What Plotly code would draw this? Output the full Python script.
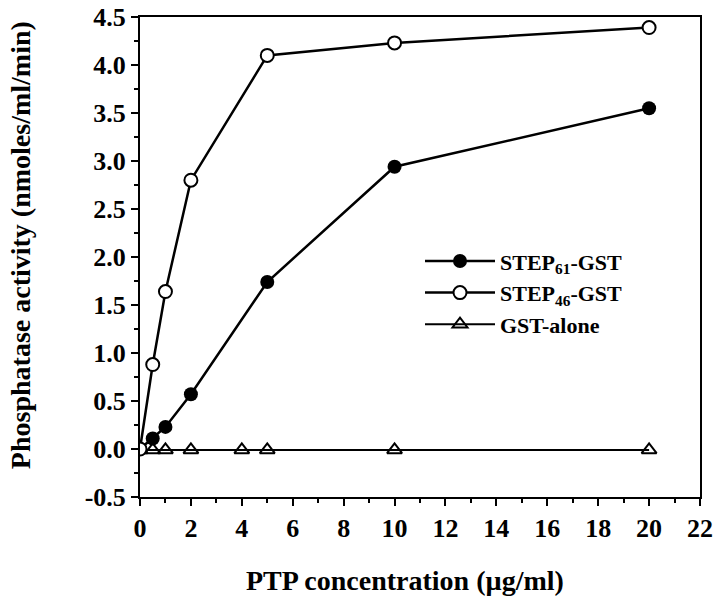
import plotly.graph_objects as go

# Data
x_step = [0, 0.5, 1, 2, 5, 10, 20]
step61 = [0.0, 0.11, 0.23, 0.57, 1.74, 2.94, 3.55]
step46 = [0.0, 0.88, 1.64, 2.80, 4.10, 4.23, 4.39]
x_gst = [0, 0.5, 1, 2, 4, 5, 10, 20]
gst = [-0.01, -0.01, -0.01, -0.01, -0.01, -0.01, -0.01, -0.01]

names = ["STEP<sub>61</sub>-GST", "STEP<sub>46</sub>-GST", "GST-alone"]
y_ticks = [-0.5, 0.0, 0.5, 1.0, 1.5, 2.0, 2.5, 3.0, 3.5, 4.0, 4.5]
y_ticktext = ["-0.5", "0.0", "0.5", "1.0", "1.5", "2.0", "2.5", "3.0", "3.5", "4.0", "4.5"]
x_ticks = [0, 2, 4, 6, 8, 10, 12, 14, 16, 18, 20, 22]
x_title = "PTP concentration (µg/ml)"
y_title = "Phosphatase activity (nmoles/ml/min)"

FONT = "Liberation Serif"

fig = go.Figure()
fig.add_trace(go.Scatter(
    x=x_gst, y=gst, mode="lines+markers", name=names[2],
    line=dict(color="black", width=2),
    marker=dict(symbol="triangle-up-open", size=13, color="black", line=dict(width=2, color="black")),
    legendrank=3,
))
fig.add_trace(go.Scatter(
    x=x_step, y=step61, mode="lines+markers", name=names[0],
    line=dict(color="black", width=2.5),
    marker=dict(symbol="circle", size=14, color="black"),
    legendrank=1,
))
fig.add_trace(go.Scatter(
    x=x_step, y=step46, mode="lines+markers", name=names[1],
    line=dict(color="black", width=2.5),
    marker=dict(symbol="circle", size=13, color="white", line=dict(width=2, color="black")),
    legendrank=2,
))

fig.update_layout(
    width=720, height=608,
    margin=dict(l=140, r=20, t=17, b=111, autoexpand=False),
    paper_bgcolor="white", plot_bgcolor="white",
    font=dict(family=FONT, color="black", size=24),
    legend=dict(
        x=0.5, y=0.535, xanchor="left", yanchor="top",
        font=dict(family=FONT, size=22, color="black", weight="bold"),
        bgcolor="rgba(0,0,0,0)", itemwidth=70, tracegroupgap=0,
        traceorder="normal",
    ),
    showlegend=True,
    annotations=[
        dict(
            text="<b>" + y_title + "</b>",
            textangle=-90, xref="paper", yref="paper",
            x=-0.214, y=0.525, xanchor="center", yanchor="middle",
            showarrow=False,
            font=dict(family=FONT, size=28, color="black"),
        ),
        dict(
            text="<b>" + x_title + "</b>",
            xref="paper", yref="paper",
            x=0.473, y=-0.173, xanchor="center", yanchor="middle",
            showarrow=False,
            font=dict(family=FONT, size=28, color="black"),
        ),
    ],
)

fig.update_xaxes(
    range=[0, 22], tickvals=x_ticks, automargin=False,
    ticks="outside", ticklen=7, tickwidth=2, tickcolor="black",
    minor=dict(dtick=1, ticks="outside", ticklen=4, tickwidth=2, tickcolor="black"),
    showline=True, linecolor="black", linewidth=2, mirror=True,
    showgrid=False, zeroline=False,
    tickfont=dict(family=FONT, size=26, color="black", weight="bold"),
)
fig.update_yaxes(
    range=[-0.5, 4.5], tickvals=y_ticks, ticktext=y_ticktext, automargin=False,
    ticks="outside", ticklen=7, tickwidth=2, tickcolor="black",
    minor=dict(dtick=0.25, ticks="outside", ticklen=4, tickwidth=2, tickcolor="black"),
    showline=True, linecolor="black", linewidth=2, mirror=True,
    showgrid=False, zeroline=False,
    tickfont=dict(family=FONT, size=26, color="black", weight="bold"),
)

fig.write_html(
    "out.html",
    config={"displayModeBar": False},
    post_script="document.body.style.margin='0';document.body.style.padding='0';",
)
